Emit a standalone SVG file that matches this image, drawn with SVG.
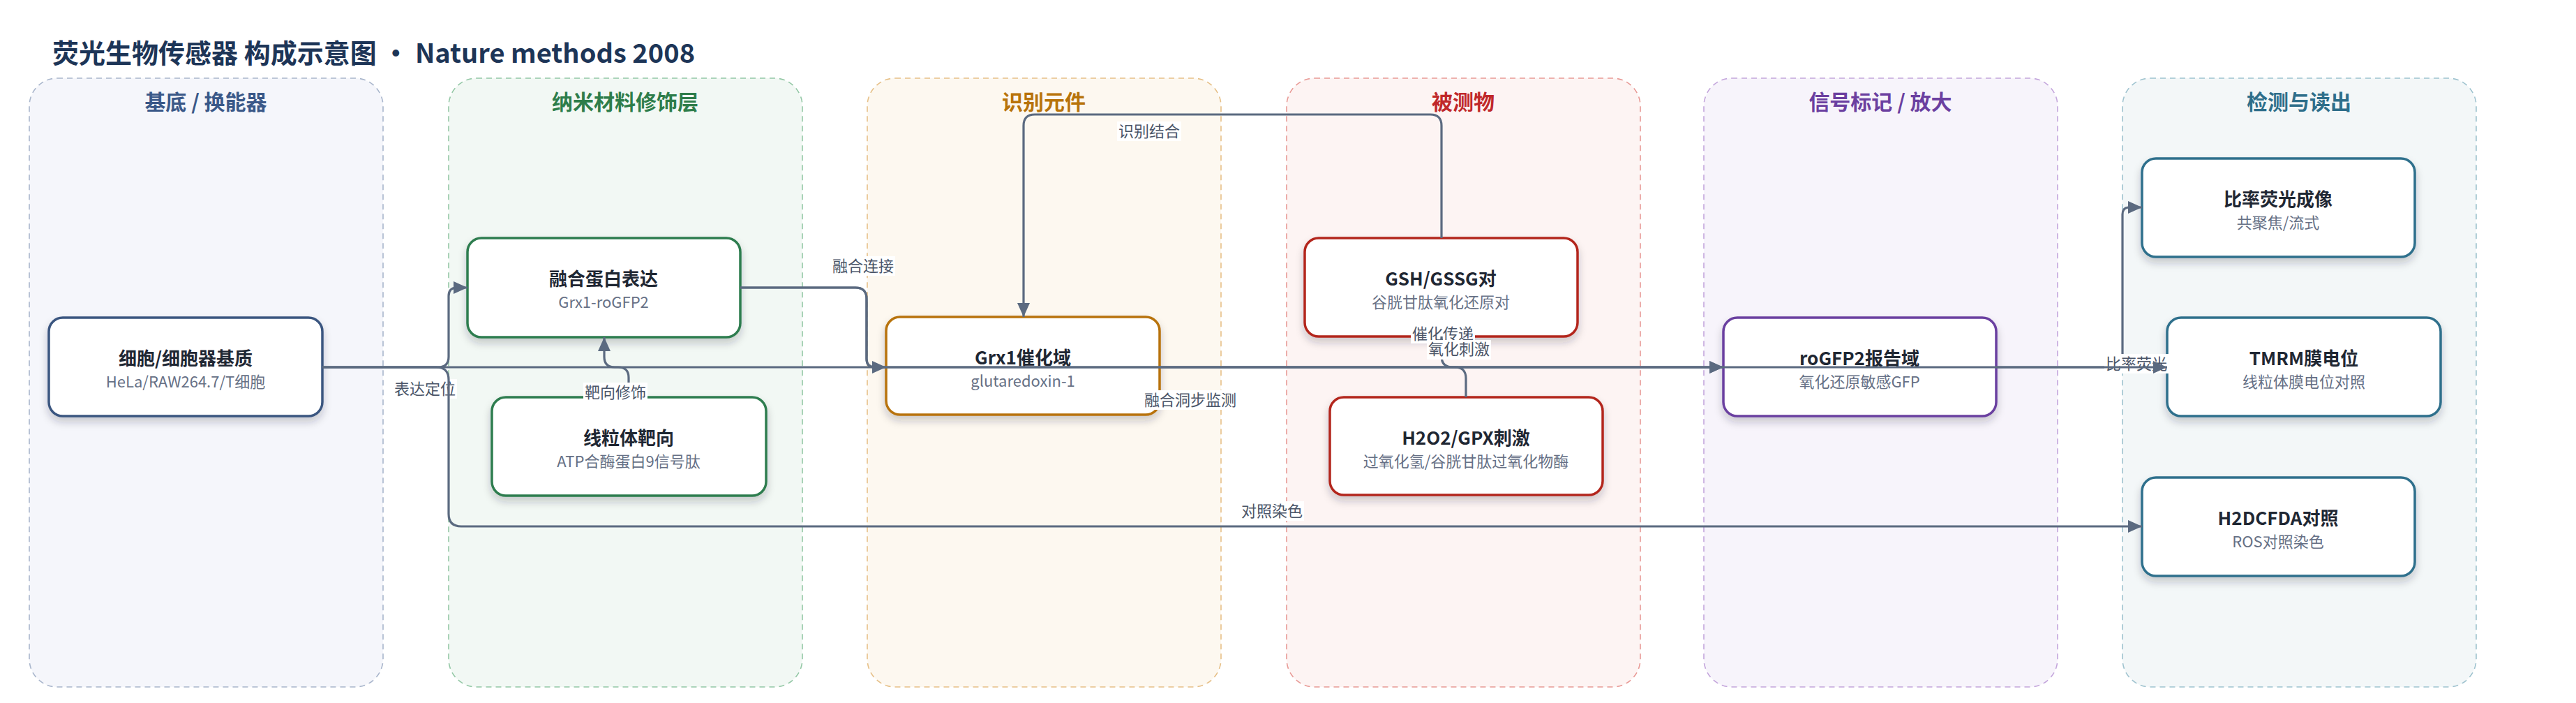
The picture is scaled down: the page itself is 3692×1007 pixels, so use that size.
<svg xmlns="http://www.w3.org/2000/svg" width="3692" height="1007" viewBox="0 0 3692 1007">
<style>
text{font-family:"Noto Sans CJK SC","Noto Sans",sans-serif}
.title{font-size:38px;font-weight:700;fill:#1d3557}
.lane{stroke-width:1.6;stroke-dasharray:8 6}
.lt{font-size:30px;font-weight:700;text-anchor:middle}
.node{fill:#fff;stroke-width:3.5;filter:url(#sh)}
.nt{font-size:26px;font-weight:700;fill:#1f2733;text-anchor:middle}
.ns{font-size:22px;fill:#667085;text-anchor:middle}
.edge{fill:none;stroke:#5b6a80;stroke-width:3.2}
.arr{marker-end:url(#ah)}
.lb{fill:#fff}
.el{font-size:22px;fill:#4a5568;text-anchor:middle}
</style>
<defs>
<filter id="sh" x="-10%" y="-10%" width="120%" height="140%">
<feDropShadow dx="0" dy="7" stdDeviation="6" flood-color="#1f2a37" flood-opacity="0.22"/>
</filter>
<marker id="ah" viewBox="0 0 20 18" refX="20" refY="9" markerWidth="20" markerHeight="18" markerUnits="userSpaceOnUse" orient="auto">
<path d="M0,0 L20,9 L0,18 z" fill="#5b6a80"/>
</marker>
</defs>
<rect width="3692" height="1007" fill="#fff"/>
<text class="title" x="75" y="90">荧光生物传感器 构成示意图 · Nature methods 2008</text>

<g id="lanes">
<g id="lane-substrate"><rect class="lane" x="42" y="112" width="507" height="872" rx="40" fill="#f5f6fb" stroke="#a9b6cc"/><text class="lt" x="295" y="157" fill="#3a5888">基底 / 换能器</text></g>
<g id="lane-nano"><rect class="lane" x="643" y="112" width="507" height="872" rx="40" fill="#f2f8f4" stroke="#94c8a6"/><text class="lt" x="896" y="157" fill="#2e7d4a">纳米材料修饰层</text></g>
<g id="lane-recog"><rect class="lane" x="1243" y="112" width="507" height="872" rx="40" fill="#fdf8f0" stroke="#e6c088"/><text class="lt" x="1496" y="157" fill="#b8730a">识别元件</text></g>
<g id="lane-analyte"><rect class="lane" x="1844" y="112" width="507" height="872" rx="40" fill="#fdf4f3" stroke="#e89a96"/><text class="lt" x="2097" y="157" fill="#c0282a">被测物</text></g>
<g id="lane-signal"><rect class="lane" x="2442" y="112" width="507" height="872" rx="40" fill="#f7f4fb" stroke="#c4a6dc"/><text class="lt" x="2695" y="157" fill="#6b3fa0">信号标记 / 放大</text></g>
<g id="lane-readout"><rect class="lane" x="3042" y="112" width="507" height="872" rx="40" fill="#f3f7f8" stroke="#9fc3cf"/><text class="lt" x="3295" y="157" fill="#2e6e8a">检测与读出</text></g>
</g>

<g id="nodes">
<g id="n-cell"><rect class="node" x="70" y="455" width="392" height="141" rx="20" stroke="#3a5680"/><text class="nt" x="266" y="523">细胞/细胞器基质</text><text class="ns" x="266" y="555">HeLa/RAW264.7/T细胞</text></g>
<g id="n-fusion"><rect class="node" x="670" y="341" width="391" height="142" rx="20" stroke="#2e7d4f"/><text class="nt" x="865" y="409">融合蛋白表达</text><text class="ns" x="865" y="441">Grx1-roGFP2</text></g>
<g id="n-mito"><rect class="node" x="705" y="569" width="393" height="141" rx="20" stroke="#2e7d4f"/><text class="nt" x="901" y="637">线粒体靶向</text><text class="ns" x="901" y="669">ATP合酶蛋白9信号肽</text></g>
<g id="n-grx1"><rect class="node" x="1270" y="454" width="392" height="140" rx="20" stroke="#b8730a"/><text class="nt" x="1466" y="522">Grx1催化域</text><text class="ns" x="1466" y="554">glutaredoxin-1</text></g>
<g id="n-gsh"><rect class="node" x="1870" y="341" width="391" height="141" rx="20" stroke="#b3261e"/><text class="nt" x="2065" y="409">GSH/GSSG对</text><text class="ns" x="2065" y="441">谷胱甘肽氧化还原对</text></g>
<g id="n-h2o2"><rect class="node" x="1906" y="569" width="391" height="140" rx="20" stroke="#b3261e"/><text class="nt" x="2101" y="637">H2O2/GPX刺激</text><text class="ns" x="2101" y="669">过氧化氢/谷胱甘肽过氧化物酶</text></g>
<g id="n-rogfp"><rect class="node" x="2470" y="455" width="391" height="141" rx="20" stroke="#6b3fa0"/><text class="nt" x="2665" y="523">roGFP2报告域</text><text class="ns" x="2665" y="555">氧化还原敏感GFP</text></g>
<g id="n-ratio"><rect class="node" x="3070" y="227" width="391" height="141" rx="20" stroke="#2f6f8c"/><text class="nt" x="3265" y="295">比率荧光成像</text><text class="ns" x="3265" y="327">共聚焦/流式</text></g>
<g id="n-tmrm"><rect class="node" x="3106" y="455" width="392" height="141" rx="20" stroke="#2f6f8c"/><text class="nt" x="3302" y="523">TMRM膜电位</text><text class="ns" x="3302" y="555">线粒体膜电位对照</text></g>
<g id="n-h2dcfda"><rect class="node" x="3070" y="684" width="391" height="141" rx="20" stroke="#2f6f8c"/><text class="nt" x="3265" y="752">H2DCFDA对照</text><text class="ns" x="3265" y="784">ROS对照染色</text></g>
</g>

<g id="connectors">
<g id="e-express"><path class="edge arr" d="M462,526 H628 Q643,526 643,511 V424 Q643,412 655,412 H670"/><rect class="lb" x="563" y="543" width="92" height="28"/><text class="el" x="609" y="565">表达定位</text></g>
<g id="e-control"><path class="edge arr" d="M462,526 H625 Q643,526 643,544 V736 Q643,754 661,754 H3070"/><rect class="lb" x="1777" y="718" width="92" height="28"/><text class="el" x="1823" y="740">对照染色</text></g>
<g id="e-target"><path class="edge arr" d="M901,569 V541 Q901,526 886,526 H881 Q866,526 866,511 V483"/><rect class="lb" x="836" y="548" width="92" height="28"/><text class="el" x="882" y="570">靶向修饰</text></g>
<g id="e-fuse"><path class="edge arr" d="M1061,412 H1226 Q1242,412 1242,428 V514 Q1242,526 1254,526 H1270"/><rect class="lb" x="1191" y="367" width="92" height="28"/><text class="el" x="1237" y="389">融合连接</text></g>
<g id="e-fuse2"><path class="edge arr" d="M1061,412 H1226 Q1242,412 1242,428 V514 Q1242,526 1254,526 H2470"/><rect class="lb" x="1635" y="559" width="142" height="28"/><text class="el" x="1706" y="581">融合洞步监测</text></g>
<g id="e-recog"><path class="edge arr" d="M2066,341 V180 Q2066,164 2050,164 H1483 Q1467,164 1467,180 V454"/><rect class="lb" x="1601" y="174" width="92" height="28"/><text class="el" x="1647" y="196">识别结合</text></g>
<g id="e-cat"><path class="edge arr" d="M1662,526 H2470"/><rect class="lb" x="2022" y="464" width="92" height="28"/><text class="el" x="2068" y="486">催化传递</text></g>
<g id="e-ox"><path class="edge arr" d="M2101,569 V542 Q2101,526 2085,526 H2082 Q2066,526 2066,510 V482"/><rect class="lb" x="2045" y="487" width="92" height="28"/><text class="el" x="2091" y="508">氧化刺激</text></g>
<g id="e-ratio"><path class="edge arr" d="M2861,526 H3030 Q3042,526 3042,514 V307 Q3042,297 3052,297 H3070"/><rect class="lb" x="3016" y="507" width="92" height="28"/><text class="el" x="3062" y="529">比率荧光</text></g>
<g id="e-tmrm"><path class="edge arr" d="M462,526 H3106"/></g>
</g>
</svg>
